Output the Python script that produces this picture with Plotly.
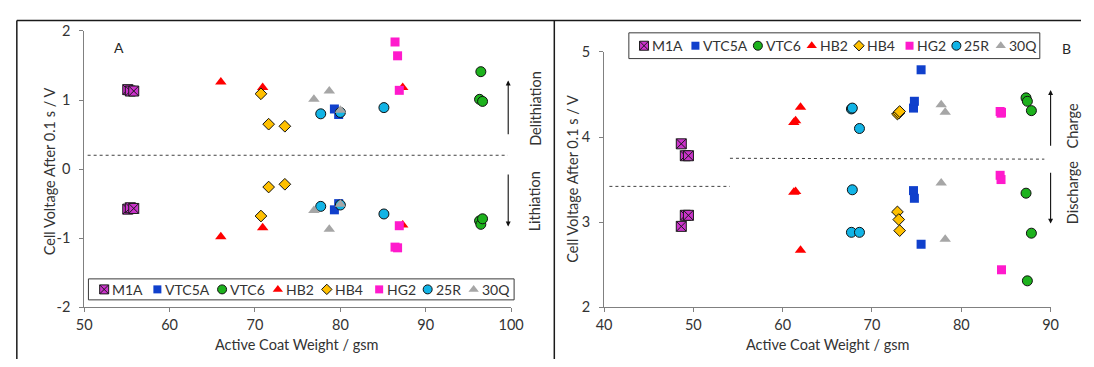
import plotly.graph_objects as go

W, H = 1094, 367
FONT = "Lato"
TXT = "#333333"
AXIS = "#808080"

SERIES = ["M1A", "VTC5A", "VTC6", "HB2", "HB4", "HG2", "25R", "30Q"]

# ---- Panel A: half-cell pulses (delithiation / lithiation), voltage after 0.1 s
A_M1A_GSM = [55.1, 55.4, 55.8]
A_M1A_UP = [1.15, 1.13, 1.13]
A_M1A_DN = [-0.58, -0.56, -0.57]

A_VTC5A_GSM = [79.3, 79.8]
A_VTC5A_UP = [0.87, 0.79]
A_VTC5A_DN = [-0.59, -0.50]

A_VTC6_GSM = [96.3, 96.45, 96.65]
A_VTC6_UP = [1.01, 1.41, 0.98]
A_VTC6_DN = [-0.75, -0.80, -0.72]

A_HB2_GSM = [66.0, 70.9, 87.3]
A_HB2_UP = [1.26, 1.18, 1.18]
A_HB2_DN = [-0.98, -0.85, -0.81]

A_HB4_GSM = [70.7, 71.6, 73.5]
A_HB4_UP = [1.09, 0.65, 0.62]
A_HB4_DN = [-0.68, -0.26, -0.22]

A_HG2_GSM = [86.4, 86.7, 86.9]
A_HG2_UP = [1.84, 1.64, 1.14]
A_HG2_DN = [-1.13, -1.14, -0.82]

A_25R_GSM = [77.7, 80.0, 85.1]
A_25R_UP = [0.80, 0.82, 0.89]
A_25R_DN = [-0.54, -0.52, -0.65]

A_30Q_GSM = [76.9, 78.7, 80.0]
A_30Q_UP = [1.01, 1.13, 0.85]
A_30Q_DN = [-0.60, -0.87, -0.51]

# dashed divider between the two pulse directions
A_SPLIT_GSM = [50.4, 99.6]
A_SPLIT_V = [0.2, 0.2]

A_XTICKS = [50, 60, 70, 80, 90, 100]
A_YTICKS = [-2, -1, 0, 1, 2]
A_YTICK_TEXT = ["-2", "-1", "0", "1", "2"]

# ---- Panel B: full-cell pulses (charge / discharge), voltage after 0.1 s
B_M1A_GSM = [48.65, 49.1, 49.45]
B_M1A_UP = [3.92, 3.78, 3.78]
B_M1A_DN = [2.95, 3.08, 3.08]

B_VTC5A_GSM = [74.65, 74.75, 75.5]
B_VTC5A_UP = [4.34, 4.42, 4.79]
B_VTC5A_DN = [3.37, 3.28, 2.74]

B_VTC6_GSM = [87.25, 87.4, 87.85]
B_VTC6_UP = [4.46, 4.42, 4.31]
B_VTC6_DN = [3.34, 2.31, 2.87]

B_HB2_GSM = [61.25, 61.45, 62.0]
B_HB2_UP = [4.17, 4.19, 4.35]
B_HB2_DN = [3.35, 3.36, 2.67]

B_HB4_GSM = [72.85, 73.0, 73.1]
B_HB4_UP = [4.27, 4.28, 4.30]
B_HB4_DN = [3.12, 3.03, 2.90]

B_HG2_GSM = [84.35, 84.45, 84.5]
B_HG2_UP = [4.30, 4.28, 4.29]
B_HG2_DN = [3.55, 3.50, 2.44]

B_25R_GSM = [67.7, 67.8, 68.6]
B_25R_UP = [4.33, 4.34, 4.10]
B_25R_DN = [2.88, 3.38, 2.88]

B_30Q_GSM = [77.75, 78.2]
B_30Q_UP = [4.38, 4.29]
B_30Q_DN = [3.46, 2.80]

B_SPLIT1_GSM = [40.6, 54.1]
B_SPLIT1_V = [3.42, 3.42]
B_SPLIT2_GSM = [54.1, 89.3]
B_SPLIT2_V = [3.75, 3.74]

B_XTICKS = [40, 50, 60, 70, 80, 90]
B_YTICKS = [2, 3, 4, 5]

# ---- marker styles per cell type
STYLE = {
    "M1A": dict(symbol="square-x", size=10, color="#CC33CC", line=dict(color="#1a1a1a", width=1)),
    "VTC5A": dict(symbol="square", size=9, color="#1040CC", line=dict(width=0)),
    "VTC6": dict(symbol="circle", size=10, color="#1DB21D", line=dict(color="#111111", width=1)),
    "HB2": dict(symbol="triangle-up", size=10, color="#FF0000", line=dict(width=0)),
    "HB4": dict(symbol="diamond", size=9, color="#FFC000", line=dict(color="#111111", width=1)),
    "HG2": dict(symbol="square", size=9, color="#FF1ACC", line=dict(width=0)),
    "25R": dict(symbol="circle", size=10, color="#12B4E6", line=dict(color="#111111", width=1)),
    "30Q": dict(symbol="triangle-up", size=10, color="#A6A6A6", line=dict(width=0)),
}

PANEL_A = {
    "M1A": (A_M1A_GSM, A_M1A_UP, A_M1A_DN),
    "VTC5A": (A_VTC5A_GSM, A_VTC5A_UP, A_VTC5A_DN),
    "VTC6": (A_VTC6_GSM, A_VTC6_UP, A_VTC6_DN),
    "HB2": (A_HB2_GSM, A_HB2_UP, A_HB2_DN),
    "HB4": (A_HB4_GSM, A_HB4_UP, A_HB4_DN),
    "HG2": (A_HG2_GSM, A_HG2_UP, A_HG2_DN),
    "25R": (A_25R_GSM, A_25R_UP, A_25R_DN),
    "30Q": (A_30Q_GSM, A_30Q_UP, A_30Q_DN),
}
PANEL_B = {
    "M1A": (B_M1A_GSM, B_M1A_UP, B_M1A_DN),
    "VTC5A": (B_VTC5A_GSM, B_VTC5A_UP, B_VTC5A_DN),
    "VTC6": (B_VTC6_GSM, B_VTC6_UP, B_VTC6_DN),
    "HB2": (B_HB2_GSM, B_HB2_UP, B_HB2_DN),
    "HB4": (B_HB4_GSM, B_HB4_UP, B_HB4_DN),
    "HG2": (B_HG2_GSM, B_HG2_UP, B_HG2_DN),
    "25R": (B_25R_GSM, B_25R_UP, B_25R_DN),
    "30Q": (B_30Q_GSM, B_30Q_UP, B_30Q_DN),
}

fig = go.Figure()

def add_split(xs, ys, xa, ya):
    fig.add_trace(go.Scatter(x=xs, y=ys, mode="lines", xaxis=xa, yaxis=ya, showlegend=False,
                             hoverinfo="skip", line=dict(color="#404040", width=1, dash="3px,3px")))

add_split(A_SPLIT_GSM, A_SPLIT_V, "x", "y")
add_split(B_SPLIT1_GSM, B_SPLIT1_V, "x2", "y2")
add_split(B_SPLIT2_GSM, B_SPLIT2_V, "x2", "y2")

for panel, xa, ya in ((PANEL_A, "x", "y"), (PANEL_B, "x2", "y2")):
    for name in SERIES:
        gsm, up, dn = panel[name]
        st = STYLE[name]
        fig.add_trace(go.Scatter(
            x=list(gsm) + list(gsm), y=list(up) + list(dn), mode="markers", name=name,
            xaxis=xa, yaxis=ya, showlegend=False, cliponaxis=False,
            marker=dict(symbol=st["symbol"], size=st["size"], color=st["color"], line=st["line"]),
        ))

# ---- pixel-space overlay used for legend keys, frames and side labels
def legend_keys(box, offsets):
    x0, y0, x1, y1 = box
    yc = (y0 + y1) / 2
    for name, off in zip(SERIES, offsets):
        st = STYLE[name]
        fig.add_trace(go.Scatter(
            x=[x0 + off], y=[yc], mode="markers", xaxis="x3", yaxis="y3", showlegend=False,
            hoverinfo="skip", cliponaxis=False,
            marker=dict(symbol=st["symbol"], size=st["size"] - 1, color=st["color"], line=st["line"]),
        ))
        fig.add_annotation(x=x0 + off + 6, y=yc, xref="x3", yref="y3", text=name, showarrow=False,
                           xanchor="left", yanchor="middle",
                           font=dict(family=FONT, size=14, color=TXT))
    fig.add_shape(type="rect", x0=x0, y0=y0, x1=x1, y1=y1, xref="x3", yref="y3",
                  line=dict(color="#3a3a3a", width=1), fillcolor="rgba(0,0,0,0)", layer="below")

LEG_A = (82, 283, 516, 305)
LEG_B = (633, 25, 1052, 52)
KEY_FRAC = [0.037, 0.162, 0.314, 0.445, 0.560, 0.683, 0.797, 0.905]
legend_keys(LEG_A, [f * (LEG_A[2] - LEG_A[0]) for f in KEY_FRAC])
legend_keys(LEG_B, [f * (LEG_B[2] - LEG_B[0]) for f in KEY_FRAC])

# panel frames
for x0, y0, x1, y1 in ((9, 12, W, 12), (9, 12, 9, H + 5), (557, 12, 557, H + 5)):
    fig.add_shape(type="line", x0=x0, y0=y0, x1=x1, y1=y1, xref="x3", yref="y3",
                  line=dict(color="#1a1a1a", width=1.5))

def text(x, y, s, angle=0, size=14, color=TXT):
    fig.add_annotation(x=x, y=y, xref="x3", yref="y3", text=s, showarrow=False, textangle=angle,
                       xanchor="center", yanchor="middle", font=dict(family=FONT, size=size, color=color))

def arrow(x, y_tail, y_head):
    fig.add_annotation(x=x, y=y_head, ax=x, ay=y_tail, xref="x3", yref="y3", axref="x3", ayref="y3",
                       text="", showarrow=True, arrowhead=2, arrowsize=0.9, arrowwidth=1.1,
                       arrowcolor="#111111", standoff=0, startstandoff=0)

text(113, 40, "A", size=14, color="#262626")
text(1079, 41, "B", size=14, color="#262626")
text(537, 104, "Delithiation", angle=-90, size=14.5)
text(537, 202, "Lithiation", angle=-90, size=14.5)
text(1085, 122, "Charge", angle=-90, size=14.5)
text(1085, 193, "Discharge", angle=-90, size=14.5)
arrow(510, 133, 75)
arrow(510, 172, 228)
arrow(1063, 145, 85)
arrow(1063, 170, 225)

# axis titles
text(42, 170, "Cell Voltage After 0.1 s / V", angle=-90, size=14.5)
text(576, 178, "Cell Voltage After 0.1 s / V", angle=-90, size=14.5)
text(295, 352, "Active Coat Weight / gsm", size=14.5)
text(836, 352, "Active Coat Weight / gsm", size=14.5)

def px_dom(a, b, total, flip=False):
    if flip:
        return [1 - b / total, 1 - a / total]
    return [a / total, b / total]

axis_common = dict(showline=True, linecolor=AXIS, linewidth=1, ticks="outside", ticklen=4,
                   tickcolor=AXIS, tickwidth=1, showgrid=False, zeroline=False,
                   tickfont=dict(family=FONT, size=14.5, color=TXT), fixedrange=True)

fig.update_layout(
    width=W, height=H, margin=dict(l=0, r=0, t=0, b=0),
    paper_bgcolor="white", plot_bgcolor="rgba(0,0,0,0)", showlegend=False,
    xaxis=dict(axis_common, domain=px_dom(77.7, 513, W), range=[50, 100],
               tickmode="array", tickvals=A_XTICKS, anchor="y"),
    yaxis=dict(axis_common, domain=px_dom(23, 312.7, H, flip=True), range=[-2, 2],
               tickmode="array", tickvals=A_YTICKS, ticktext=A_YTICK_TEXT,
               anchor="x", ticklabelstandoff=6),
    xaxis2=dict(axis_common, domain=px_dom(607.7, 1063, W), range=[40, 90],
                tickmode="array", tickvals=B_XTICKS, anchor="y2"),
    yaxis2=dict(axis_common, domain=px_dom(45, 312.7, H, flip=True), range=[2, 5],
                tickmode="array", tickvals=B_YTICKS, anchor="x2", ticklabelstandoff=6),
    xaxis3=dict(domain=[0, 1], range=[0, W], visible=False, anchor="y3", fixedrange=True),
    yaxis3=dict(domain=[0, 1], range=[H, 0], visible=False, anchor="x3", fixedrange=True),
)

fig.write_html("out.html")
